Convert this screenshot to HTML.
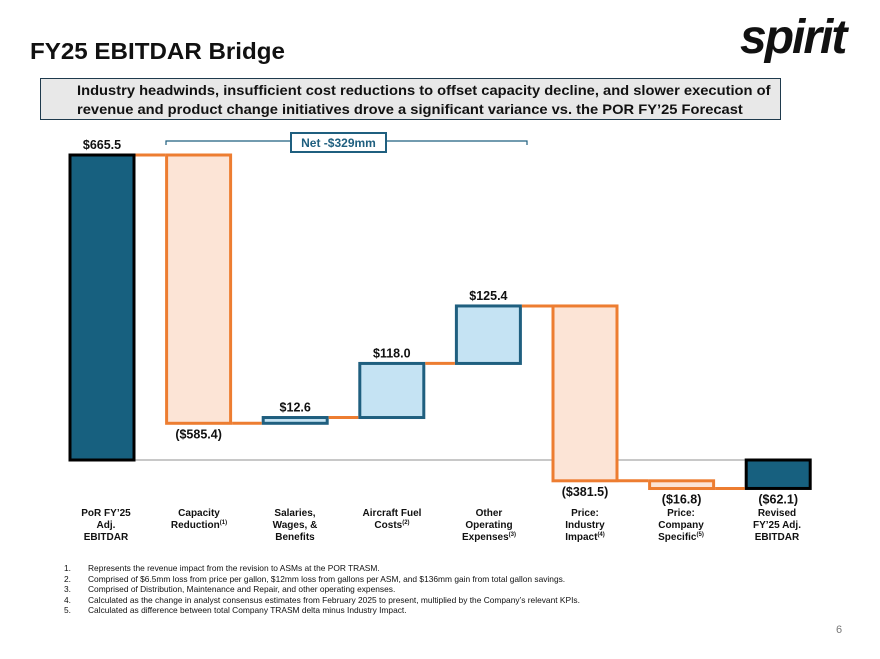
<!DOCTYPE html>
<html><head><meta charset="utf-8">
<style>
body{margin:0;width:880px;height:659px;background:#fff;font-family:"Liberation Sans",Arial,sans-serif;position:relative;overflow:hidden}
.title{position:absolute;left:30px;top:38px;font-size:23px;font-weight:bold;color:#111;transform:scaleX(1.05);transform-origin:left}
.logo{position:absolute;left:740px;top:10px;font-size:48px;font-weight:bold;font-style:italic;letter-spacing:-2px;color:#111}
.banner{position:absolute;left:40px;top:78px;width:741px;height:42px;background:#e8e8e8;border:1px solid #1f3a4d;box-sizing:border-box}
.banner div{position:absolute;left:36px;top:2px;font-size:14px;font-weight:bold;color:#111;line-height:19px;white-space:nowrap;transform:scaleX(1.05);transform-origin:left}
.cat{position:absolute;top:508px;width:96px;text-align:center;font-size:10px;font-weight:bold;color:#111;line-height:12px}
.cat sup{font-size:6px;line-height:0;vertical-align:4px}
.notes{position:absolute;left:64px;top:563px;font-size:8.4px;color:#111;line-height:10.5px;white-space:nowrap}
.notes span{display:inline-block;width:24px}
.pg{position:absolute;left:836px;top:624px;font-size:11px;color:#777}
</style></head><body>
<div class="title">FY25 EBITDAR Bridge</div>
<div class="logo">spirit</div>
<div class="banner"><div>Industry headwinds, insufficient cost reductions to offset capacity decline, and slower execution of<br>revenue and product change initiatives drove a significant variance vs. the POR FY’25 Forecast</div></div>
<svg id="chart" width="880" height="659" style="position:absolute;left:0;top:0"></svg>
<div class="cat" style="left:58px">PoR FY’25<br>Adj.<br>EBITDAR</div>
<div class="cat" style="left:151px">Capacity<br>Reduction<sup>(1)</sup></div>
<div class="cat" style="left:247px">Salaries,<br>Wages, &amp;<br>Benefits</div>
<div class="cat" style="left:344px">Aircraft Fuel<br>Costs<sup>(2)</sup></div>
<div class="cat" style="left:441px">Other<br>Operating<br>Expenses<sup>(3)</sup></div>
<div class="cat" style="left:537px">Price:<br>Industry<br>Impact<sup>(4)</sup></div>
<div class="cat" style="left:633px">Price:<br>Company<br>Specific<sup>(5)</sup></div>
<div class="cat" style="left:729px">Revised<br>FY’25 Adj.<br>EBITDAR</div>
<div class="notes">
<div><span>1.</span>Represents the revenue impact from the revision to ASMs at the POR TRASM.</div>
<div><span>2.</span>Comprised of $6.5mm loss from price per gallon, $12mm loss from gallons per ASM, and $136mm gain from total gallon savings.</div>
<div><span>3.</span>Comprised of Distribution, Maintenance and Repair, and other operating expenses.</div>
<div><span>4.</span>Calculated as the change in analyst consensus estimates from February 2025 to present, multiplied by the Company’s relevant KPIs.</div>
<div><span>5.</span>Calculated as difference between total Company TRASM delta minus Industry Impact.</div>
</div>
<div class="pg">6</div>
<script>
const categories=["PoR FY'25 Adj. EBITDAR","Capacity Reduction","Salaries, Wages, & Benefits","Aircraft Fuel Costs","Other Operating Expenses","Price: Industry Impact","Price: Company Specific","Revised FY'25 Adj. EBITDAR"];
const values=[665.5,-585.4,12.6,118.0,125.4,-381.5,-16.8,-62.1];
const isTotal=[true,false,false,false,false,false,false,true];
const valueLabels=["$665.5","($585.4)","$12.6","$118.0","$125.4","($381.5)","($16.8)","($62.1)"];
const svg=document.getElementById('chart');
const NS='http://www.w3.org/2000/svg';
const y0=460,k=305/665.5;
const y=v=>y0-v*k;
const x=i=>70+i*96.6;
const bw=64;
function mk(t,a){const e=document.createElementNS(NS,t);for(const n in a)e.setAttribute(n,a[n]);svg.appendChild(e);return e;}
let l=mk('line',{x1:70,x2:810,y1:y0,y2:y0,stroke:'#c8c8c8','stroke-width':2});


let br=mk('path',{d:'M166,145 V141 H527 V145',fill:'none',stroke:'#1f5f7f','stroke-width':1.2});


let nb=mk('rect',{x:291,y:133,width:95,height:19,fill:'#fff',stroke:'#1f5f7f','stroke-width':2});


let nt=mk('text',{x:338.5,y:147,'text-anchor':'middle','font-size':12,'font-weight':'bold',fill:'#1f5f7f','font-family':'Liberation Sans,sans-serif'});
nt.textContent='Net -$329mm';


let cum=0;const levels=[];
values.forEach((v,i)=>{
  let a,b;
  if(isTotal[i]){a=0;b=v;cum=v;}else{a=cum;b=cum+v;cum=b;}
  levels.push(b);
  const top=y(Math.max(a,b)),bot=y(Math.min(a,b));
  let fill,stroke,sw;
  if(isTotal[i]){fill='#17607f';stroke='#000';sw=3;}
  else if(v<0){fill='#fce4d6';stroke='#ed7d31';sw=3;}
  else{fill='#c5e3f3';stroke='#1f5f7f';sw=3;}
  const r=mk('rect',{x:x(i),y:top,width:bw,height:Math.max(bot-top,2),fill:fill,stroke:stroke,'stroke-width':sw});
  
  
  const lab=mk('text',{x:x(i)+bw/2,'text-anchor':'middle','font-size':12.5,'font-weight':'bold',fill:'#111','font-family':'Liberation Sans,sans-serif'});
  const below=(v<0);
  lab.setAttribute('y',below?bot+15:top-6);
  lab.textContent=valueLabels[i];
  
  
});
for(let i=0;i<values.length-1;i++){
  const c=mk('line',{x1:x(i)+bw+1.5,x2:x(i+1)-1.5,y1:y(levels[i]),y2:y(levels[i]),stroke:'#ed7d31','stroke-width':3});
  
  
}
</script>
</body></html>
